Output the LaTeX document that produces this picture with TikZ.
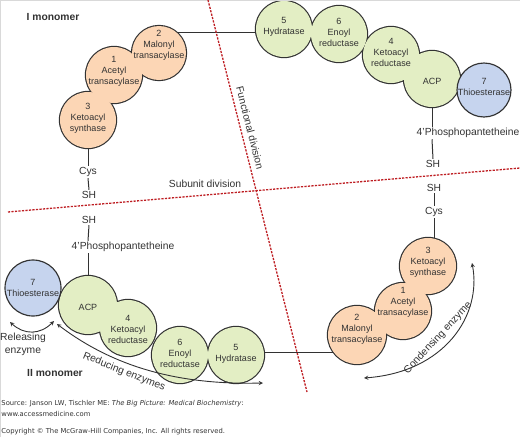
\documentclass[tikz,border=0pt]{standalone}
\usepackage{fontspec}
\setmainfont{Liberation Sans}
\newfontfamily\footfont{DejaVu Sans}
\usetikzlibrary{backgrounds}
\definecolor{peach}{RGB}{252,214,181}
\definecolor{leaf}{RGB}{227,238,196}
\definecolor{sky}{RGB}{198,212,238}
\definecolor{ink}{RGB}{50,50,50}
\definecolor{divred}{RGB}{190,30,35}
\begin{document}
\begin{tikzpicture}[x=1pt, y=-1pt, >=stealth, line width=0.9pt,
    enz/.style={align=center, inner sep=0pt, text=ink, font=\fontsize{9}{11}\selectfont},
    tag/.style={inner sep=1pt, text=ink, font=\fontsize{10.3}{13}\selectfont},
    bold tag/.style={tag, font=\fontsize{10.3}{13}\selectfont\bfseries},
    foot/.style={anchor=west, inner sep=0pt, text=ink, font=\footfont\fontsize{6.8}{8}\selectfont},
    division/.style={divred, line width=1.3pt, dash pattern=on 2.2pt off 1.3pt},
    rim/.style={ink, line width=2.3pt}]
    \useasboundingbox (0,0) rectangle (520,437);
    % 0. frame
    \draw[gray!30, line width=1pt] (0.5,437) -- (0.5,0.5) -- (520,0.5);

    % 1. enzyme texts (I monomer)
    \node[enz] (malonylI) at (159,45) {2\\Malonyl\\transacylase};
    \node[enz] (acetylI) at (114,71) {1\\Acetyl\\transacylase};
    \node[enz] (synthaseI) at (88,118) {3\\Ketoacyl\\synthase};
    \node[enz] (hydrataseI) at (284,27) {5\\Hydratase};
    \node[enz] (enoylI) at (339,32) {6\\Enoyl\\reductase};
    \node[enz] (ketoredI) at (391,52) {4\\Ketoacyl\\reductase};
    \node[enz] (acpI) at (432,81) {ACP};
    \node[enz] (thioI) at (484,87) {7\\Thioesterase};
    % enzyme texts (II monomer)
    \node[enz] (synthaseII) at (428,262) {3\\Ketoacyl\\synthase};
    \node[enz] (acetylII) at (403,302) {1\\Acetyl\\transacylase};
    \node[enz] (malonylII) at (357,329) {2\\Malonyl\\transacylase};
    \node[enz] (acpII) at (88,307) {ACP};
    \node[enz] (ketoredII) at (128,329) {4\\Ketoacyl\\reductase};
    \node[enz] (enoylII) at (180,353) {6\\Enoyl\\reductase};
    \node[enz] (hydrataseII) at (236,354) {5\\Hydratase};
    \node[enz] (thioII) at (33,288) {7\\Thioesterase};

    % 2. side chains
    \node[tag] (cysI) at (88,172) {Cys};
    \node[tag] (shCysI) at (89,195) {SH};
    \node[tag] (ppI) at (468,133) {4'Phosphopantetheine};
    \node[tag] (shPpI) at (433,164) {SH};
    \node[tag] (shCysII) at (434,188) {SH};
    \node[tag] (cysII) at (434,212) {Cys};
    \node[tag] (shPpII) at (89,220) {SH};
    \node[tag] (ppII) at (123,247) {4'Phosphopantetheine};

    % 3. other labels
    \node[bold tag] (monoI) at (53,17) {I monomer};
    \node[bold tag] (monoII) at (55,373) {II monomer};
    \node[tag, align=center] (releaseTxt) at (23,344) {Releasing\\enzyme};
    \node[tag, rotate=-22] (reduceTxt) at (124,372) {Reducing enzymes};
    \node[tag, rotate=47] (condenseTxt) at (438,338) {Condensing enzyme};
    \node[tag, rotate=-75.8] (funcTxt) at (250,128) {Functional division};
    \node[tag] (subTxt) at (205,184) {Subunit division};
    \node[foot] (srcA) at (1,404) {Source: Janson LW, Tischler ME: \textit{The Big Picture: Medical Biochemistry}:};
    \node[foot] (srcB) at (1,414) {www.accessmedicine.com};
    \node[foot] (copyTxt) at (1,432) {Copyright © The McGraw-Hill Companies, Inc. All rights reserved.};

    % 4. connectors and circles, behind the texts
    \begin{scope}[on background layer]
        \draw[ink, line width=1pt] (synthaseI) -- (cysI.north);
        \draw[ink, line width=1pt] (cysI.south) -- (shCysI.north);
        \draw[ink, line width=1pt] ([yshift=13pt]malonylI.center) -- ([yshift=13pt]malonylI.center -| hydrataseI);
        \draw[ink, line width=1pt] (acpI) -- (acpI |- ppI.north);
        \draw[ink, line width=1pt] (acpI |- ppI.south) -- (shPpI.north);
        \draw[ink, line width=1pt] (shCysII.south) -- (cysII.north);
        \draw[ink, line width=1pt] (cysII.south) -- (cysII |- synthaseII);
        \draw[ink, line width=1pt] ([yshift=-23pt]malonylII.center) -- ([yshift=-23pt]malonylII.center -| hydrataseII);
        \draw[ink, line width=1pt] (acpII) -- (acpII |- ppII.south);
        \draw[ink, line width=1pt] (acpII |- ppII.north) -- (shPpII.south);

        % merged outlines first, then the fills
        \foreach \cx/\cy/\r in {159/53/27, 114/75/28, 88/120/28, 284/29/28, 339/34/28, 391/55/28, 432/79/28,
                               428/266/28, 403/311/28, 357/335/29, 88/305/29, 128/328/28, 180/355/28, 236/355/28}
            \draw[rim] (\cx,\cy) circle[radius=\r pt];
        \foreach \cx/\cy/\r in {159/53/27, 114/75/28, 88/120/28, 428/266/28, 403/311/28, 357/335/29}
            \fill[peach] (\cx,\cy) circle[radius=\r pt];
        \foreach \cx/\cy/\r in {284/29/28, 339/34/28, 391/55/28, 432/79/28, 88/305/29, 128/328/28, 180/355/28, 236/355/28}
            \fill[leaf] (\cx,\cy) circle[radius=\r pt];
        \draw[ink, line width=1.15pt, fill=sky] (484,90) circle[radius=27pt];
        \draw[ink, line width=1.15pt, fill=sky] (33,288) circle[radius=28pt];
    \end{scope}

    % 5. enzyme arrows
    \coordinate (relL) at (10,322);
    \coordinate (relR) at (54,321);
    \draw[<->, ink] (relL) .. controls (24,335) and (40,335) .. (relR);
    \coordinate (redL) at (57,324);
    \coordinate (redR) at (263,383);
    \draw[<->, ink] (redL) .. controls (115,368) and (180,385) .. (redR);
    \coordinate (conT) at (472,263);
    \coordinate (conB) at (364,378);
    \draw[<->, ink] (conT) .. controls (482,315) and (445,372) .. (conB);

    % 6. dashed division lines
    \coordinate (funcTop) at (208,0);
    \coordinate (funcBot) at (307,392);
    \draw[division] (funcTop) -- (funcBot);
    \coordinate (subL) at (8,212);
    \coordinate (subR) at (520,168);
    \draw[division] (subL) -- (subR);
\end{tikzpicture}
\end{document}
